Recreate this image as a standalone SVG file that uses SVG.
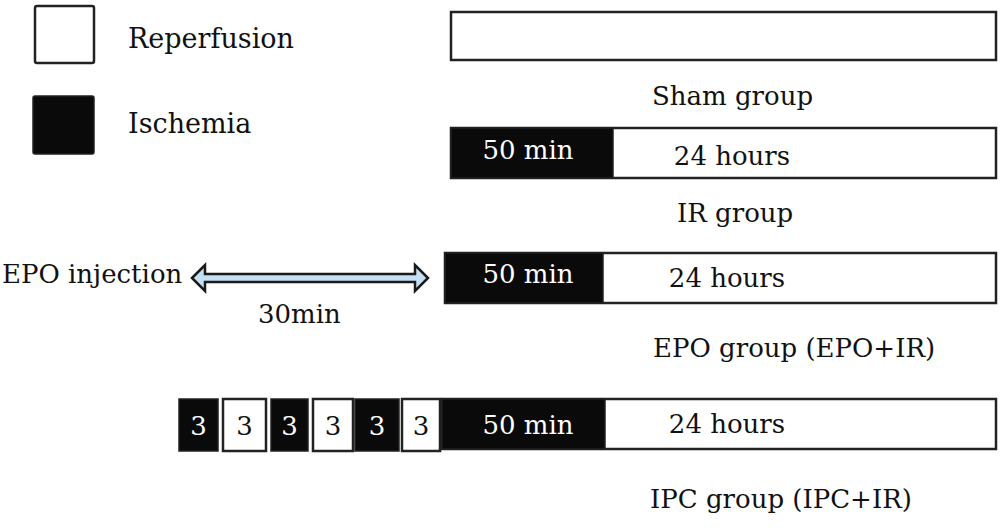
<svg xmlns="http://www.w3.org/2000/svg" width="1000" height="528" viewBox="0 0 1000 528">
<style>
text{font-family:"DejaVu Serif","Liberation Serif",serif;font-size:26px;fill:#111}
.leg{font-size:27px}
.w{fill:#fff;stroke:#222;stroke-width:2.5}
.b{fill:#0a0a0a;stroke:#222;stroke-width:1.5}
.wt{fill:#fff}
.m{text-anchor:middle}
</style>
<rect width="1000" height="528" fill="#fff"/>
<g id="legend-reperfusion">
<rect class="w" x="35" y="6" width="59" height="57" rx="2"/>
<text class="leg" x="128" y="48">Reperfusion</text>
</g>
<g id="legend-ischemia">
<rect class="b" x="33" y="96" width="61" height="58" rx="2"/>
<text class="leg" x="128" y="133">Ischemia</text>
</g>
<g id="sham">
<rect class="w" x="451" y="12" width="545" height="48"/>
<text x="652" y="105">Sham group</text>
</g>
<g id="ir">
<rect class="w" x="451" y="128" width="545" height="50"/>
<rect class="b" x="451" y="128" width="162" height="50"/>
<text class="wt m" x="528" y="159">50 min</text>
<text class="m" x="732" y="165">24 hours</text>
<text x="677" y="222">IR group</text>
</g>
<g id="epo-injection">
<text x="2" y="283">EPO injection</text>
</g>
<g id="epo">
<rect class="w" x="445" y="253" width="551" height="50"/>
<rect class="b" x="445" y="253" width="158" height="50"/>
<text class="wt m" x="528" y="283">50 min</text>
<text class="m" x="727" y="287">24 hours</text>
<text x="653" y="357">EPO group (EPO+IR)</text>
</g>
<g id="ipc">
<rect class="b" x="179" y="399" width="39" height="52"/>
<rect class="w" x="223" y="399" width="43" height="52"/>
<rect class="b" x="271" y="399" width="37" height="52"/>
<rect class="w" x="313" y="399" width="40" height="52"/>
<rect class="b" x="355" y="399" width="44" height="52"/>
<rect class="w" x="402" y="399" width="38" height="52"/>
<text class="wt m" x="198.5" y="435">3</text>
<text class="m" x="244.5" y="435">3</text>
<text class="wt m" x="289.5" y="435">3</text>
<text class="m" x="333" y="435">3</text>
<text class="wt m" x="377" y="435">3</text>
<text class="m" x="421" y="435">3</text>
<rect class="w" x="442" y="399" width="554" height="50"/>
<rect class="b" x="442" y="399" width="163" height="50"/>
<text class="wt m" x="528" y="434">50 min</text>
<text class="m" x="727" y="433">24 hours</text>
<text x="650" y="508">IPC group (IPC+IR)</text>
</g>
<g id="connectors">
<path d="M192,278 L205,265 L205,274 L415,274 L415,265 L428,278 L415,291 L415,282 L205,282 L205,291 Z" fill="#c5e0f4" stroke="#1a1a1a" stroke-width="2.5" stroke-linejoin="miter"/>
<text x="258" y="323">30min</text>
</g>
</svg>
